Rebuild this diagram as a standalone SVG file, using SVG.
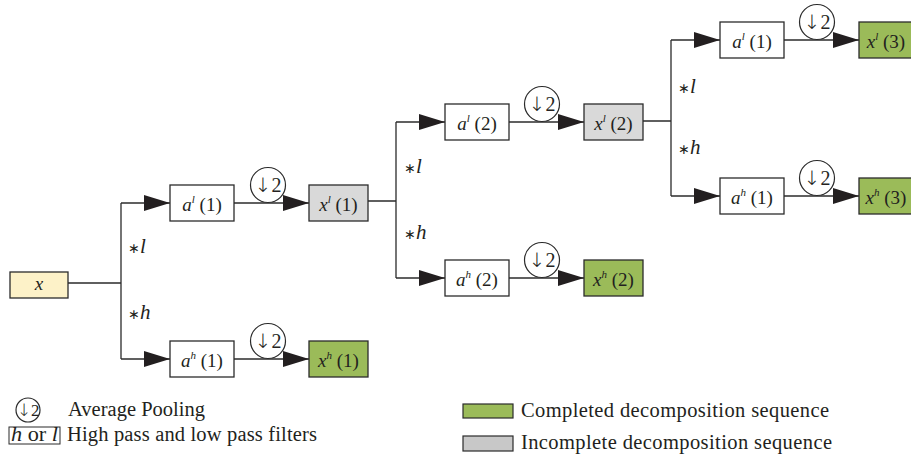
<svg xmlns="http://www.w3.org/2000/svg" width="911" height="460" viewBox="0 0 911 460">
  <style>
    .bg { fill: #ffffff; }
    .box { stroke: #2b2b2b; stroke-width: 1.3; }
    .plain { fill: #ffffff; }
    .input { fill: #fdf2c8; }
    .done { fill: #9bbb59; }
    .partial { fill: #d9d9d9; }
    .wire { fill: none; stroke: #2b2b2b; stroke-width: 1.3; }
    .pool { fill: #ffffff; stroke: #2b2b2b; stroke-width: 1.2; }
    text { font-family: "Liberation Serif", "Times New Roman", serif; fill: #231f20; }
    .lbl { font-size: 19px; text-anchor: middle; }
    .it { font-style: italic; }
    .sup { font-size: 11px; font-style: italic; }
    .pooltxt { font-size: 20px; text-anchor: middle; opacity: 0.99; }
    .arr { font-family: "DejaVu Sans", sans-serif; font-weight: 200; }
    .op { font-size: 21px; }
    .star { font-size: 14px; }
    .legend { font-size: 20.5px; }
  </style>
  <defs>
    <marker id="tri" markerUnits="userSpaceOnUse" markerWidth="26" markerHeight="16" refX="26" refY="8" orient="auto">
      <path d="M0,0 L26,8 L0,16 Z" fill="#231f20"/>
    </marker>
  </defs>
  <rect class="bg" x="0" y="0" width="911" height="460"/>

  <!-- connectors -->
  <g id="connectors">
    <!-- level 1 -->
    <path class="wire" d="M68,283 H121 M121,203 V359"/>
    <path class="wire" d="M121,203 H170" marker-end="url(#tri)"/>
    <path class="wire" d="M121,359 H170" marker-end="url(#tri)"/>
    <path class="wire" d="M234,203 H309" marker-end="url(#tri)"/>
    <path class="wire" d="M234,359 H309" marker-end="url(#tri)"/>
    <circle class="pool" cx="268" cy="185" r="17.5"/>
    <circle class="pool" cx="268" cy="341" r="17.5"/>
    <text class="pooltxt" x="268" y="192"><tspan class="arr">↓</tspan>2</text>
    <text class="pooltxt" x="268" y="348"><tspan class="arr">↓</tspan>2</text>
    <text class="op" x="128" y="253"><tspan class="star">∗</tspan><tspan class="it">l</tspan></text>
    <text class="op" x="128" y="319"><tspan class="star">∗</tspan><tspan class="it">h</tspan></text>

    <!-- level 2 -->
    <path class="wire" d="M368,201 H396 M396,122 V278"/>
    <path class="wire" d="M396,122 H445" marker-end="url(#tri)"/>
    <path class="wire" d="M396,278 H445" marker-end="url(#tri)"/>
    <path class="wire" d="M509,122 H584" marker-end="url(#tri)"/>
    <path class="wire" d="M509,278 H584" marker-end="url(#tri)"/>
    <circle class="pool" cx="542" cy="104" r="17.5"/>
    <circle class="pool" cx="542" cy="260" r="17.5"/>
    <text class="pooltxt" x="542" y="111"><tspan class="arr">↓</tspan>2</text>
    <text class="pooltxt" x="542" y="267"><tspan class="arr">↓</tspan>2</text>
    <text class="op" x="404" y="173"><tspan class="star">∗</tspan><tspan class="it">l</tspan></text>
    <text class="op" x="404" y="239"><tspan class="star">∗</tspan><tspan class="it">h</tspan></text>

    <!-- level 3 -->
    <path class="wire" d="M643,121 H671 M671,40 V196"/>
    <path class="wire" d="M671,40 H720" marker-end="url(#tri)"/>
    <path class="wire" d="M671,196 H720" marker-end="url(#tri)"/>
    <path class="wire" d="M784,40 H859" marker-end="url(#tri)"/>
    <path class="wire" d="M784,196 H859" marker-end="url(#tri)"/>
    <circle class="pool" cx="817" cy="22" r="17.5"/>
    <circle class="pool" cx="817" cy="178" r="17.5"/>
    <text class="pooltxt" x="817" y="29"><tspan class="arr">↓</tspan>2</text>
    <text class="pooltxt" x="817" y="185"><tspan class="arr">↓</tspan>2</text>
    <text class="op" x="678" y="93"><tspan class="star">∗</tspan><tspan class="it">l</tspan></text>
    <text class="op" x="678" y="154"><tspan class="star">∗</tspan><tspan class="it">h</tspan></text>
  </g>

  <!-- nodes -->
  <g id="node-x">
    <rect class="box input" x="10" y="272" width="58" height="26"/>
    <text class="lbl it" x="39" y="290">x</text>
  </g>

  <g id="node-al1">
    <rect class="box plain" x="170" y="185" width="64" height="36"/>
    <text class="lbl" x="202" y="211"><tspan class="it">a</tspan><tspan class="sup" dy="-8">l</tspan><tspan dy="8"> (1)</tspan></text>
  </g>
  <g id="node-ah1">
    <rect class="box plain" x="170" y="341" width="64" height="36"/>
    <text class="lbl" x="202" y="367"><tspan class="it">a</tspan><tspan class="sup" dy="-8">h</tspan><tspan dy="8"> (1)</tspan></text>
  </g>
  <g id="node-xl1">
    <rect class="box partial" x="309" y="185" width="59" height="36"/>
    <text class="lbl" x="338.5" y="211"><tspan class="it">x</tspan><tspan class="sup" dy="-8">l</tspan><tspan dy="8"> (1)</tspan></text>
  </g>
  <g id="node-xh1">
    <rect class="box done" x="309" y="341" width="59" height="36"/>
    <text class="lbl" x="338.5" y="367"><tspan class="it">x</tspan><tspan class="sup" dy="-8">h</tspan><tspan dy="8"> (1)</tspan></text>
  </g>

  <g id="node-al2">
    <rect class="box plain" x="445" y="104" width="64" height="36"/>
    <text class="lbl" x="477" y="130"><tspan class="it">a</tspan><tspan class="sup" dy="-8">l</tspan><tspan dy="8"> (2)</tspan></text>
  </g>
  <g id="node-ah2">
    <rect class="box plain" x="445" y="260" width="64" height="36"/>
    <text class="lbl" x="477" y="286"><tspan class="it">a</tspan><tspan class="sup" dy="-8">h</tspan><tspan dy="8"> (2)</tspan></text>
  </g>
  <g id="node-xl2">
    <rect class="box partial" x="584" y="104" width="59" height="36"/>
    <text class="lbl" x="613.5" y="130"><tspan class="it">x</tspan><tspan class="sup" dy="-8">l</tspan><tspan dy="8"> (2)</tspan></text>
  </g>
  <g id="node-xh2">
    <rect class="box done" x="584" y="260" width="59" height="36"/>
    <text class="lbl" x="613.5" y="286"><tspan class="it">x</tspan><tspan class="sup" dy="-8">h</tspan><tspan dy="8"> (2)</tspan></text>
  </g>

  <g id="node-al3">
    <rect class="box plain" x="720" y="22" width="64" height="36"/>
    <text class="lbl" x="752" y="48"><tspan class="it">a</tspan><tspan class="sup" dy="-8">l</tspan><tspan dy="8"> (1)</tspan></text>
  </g>
  <g id="node-ah3">
    <rect class="box plain" x="720" y="178" width="64" height="36"/>
    <text class="lbl" x="752" y="204"><tspan class="it">a</tspan><tspan class="sup" dy="-8">h</tspan><tspan dy="8"> (1)</tspan></text>
  </g>
  <g id="node-xl3">
    <rect class="box done" x="859" y="22" width="59" height="36"/>
    <text class="lbl" x="886" y="48"><tspan class="it">x</tspan><tspan class="sup" dy="-8">l</tspan><tspan dy="8"> (3)</tspan></text>
  </g>
  <g id="node-xh3">
    <rect class="box done" x="859" y="178" width="59" height="36"/>
    <text class="lbl" x="886" y="204"><tspan class="it">x</tspan><tspan class="sup" dy="-8">h</tspan><tspan dy="8"> (3)</tspan></text>
  </g>

  <!-- legend -->
  <g id="legend">
    <circle class="pool" cx="28" cy="410" r="12"/>
    <text class="pooltxt" x="28" y="416" style="font-size:17px"><tspan class="arr">↓</tspan>2</text>
    <text class="legend" x="68" y="416" textLength="137">Average Pooling</text>

    <rect class="box plain" x="9" y="427" width="51" height="17" style="stroke-width:1"/>
    <text class="legend" x="11" y="441" textLength="47" lengthAdjust="spacingAndGlyphs"><tspan class="it">h</tspan> or <tspan class="it">l</tspan></text>
    <text class="legend" x="67" y="441" textLength="250">High pass and low pass filters</text>

    <rect class="box done" x="463" y="404" width="50" height="14" style="stroke-width:1.2"/>
    <text class="legend" x="521" y="417" textLength="308">Completed decomposition sequence</text>
    <rect class="box" x="463" y="436" width="50" height="15" style="fill:#c8c8c8;stroke-width:1.2"/>
    <text class="legend" x="521" y="449" textLength="311">Incomplete decomposition sequence</text>
  </g>
</svg>
